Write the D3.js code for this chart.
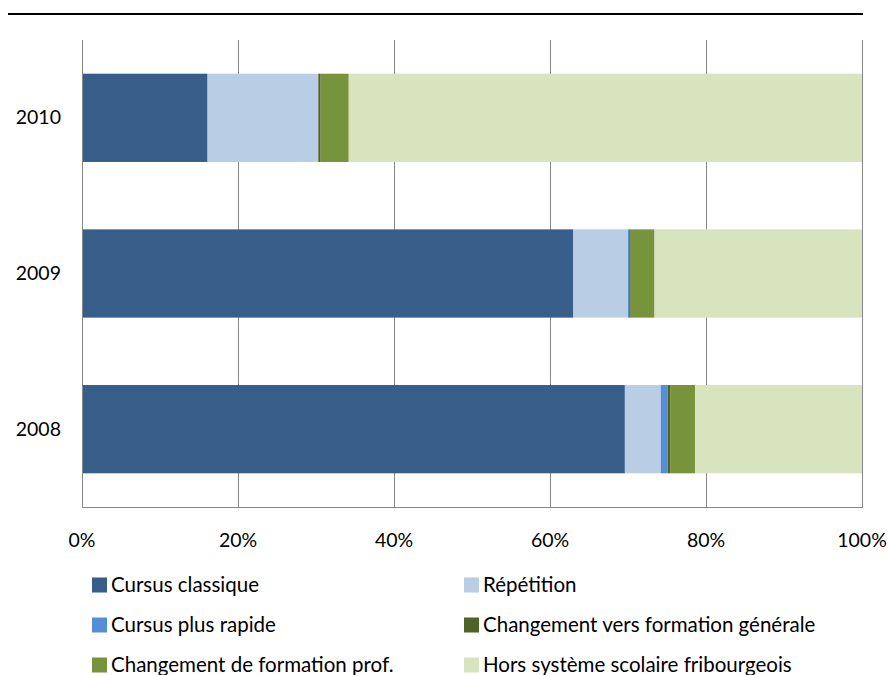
<!DOCTYPE html>
<html><head><meta charset="utf-8">
<script src="https://cdn.jsdelivr.net/npm/d3@7"></script>
<style>body{margin:0;background:#fff}svg{display:block}text{font-family:Lato,"Open Sans",sans-serif;fill:#000}</style>
</head><body><svg id="c" width="888" height="675"></svg>
<script>
const years = ["2010","2009","2008"];
const seriesNames = ["Cursus classique","Répétition","Cursus plus rapide","Changement vers formation générale","Changement de formation prof.","Hors système scolaire fribourgeois"];
const seriesColors = ["#375D89","#B9CDE5","#558ED5","#4F6228","#77933C","#D7E4BD"];
const cursusClassique = [16.1, 63.0, 69.6];
const repetition = [14.2, 7.0, 4.6];
const cursusRapide = [0.0, 0.15, 0.9];
const versGenerale = [0.3, 0.2, 0.3];
const formationProf = [3.6, 3.05, 3.2];
const horsSysteme = [65.8, 26.6, 21.4];
const tickValues = [0,20,40,60,80,100];

const allSeries = [cursusClassique, repetition, cursusRapide, versGenerale, formationProf, horsSysteme];
const rows = years.map((y,i)=>{const o={year:y}; seriesNames.forEach((s,j)=>o[s]=allSeries[j][i]); return o;});
const stack = d3.stack().keys(seriesNames)(rows);

const svg = d3.select("#c");
const L=82,R=862,T=40,B=507;
const x = d3.scaleLinear().domain([0,100]).range([L,R]);
const y = d3.scaleBand().domain(years).range([T,B]).paddingInner(0.433).paddingOuter(0.2165);

svg.append("line").attr("x1",8).attr("x2",863).attr("y1",14).attr("y2",14).attr("stroke","#000").attr("stroke-width",2);

svg.append("g").selectAll("line").data(tickValues.slice(1)).join("line")
  .attr("x1",d=>x(d)+0.5).attr("x2",d=>x(d)+0.5).attr("y1",T).attr("y2",B)
  .attr("stroke","#868686").attr("stroke-width",1);

svg.append("g").selectAll("g").data(stack).join("g").attr("fill",(d,i)=>seriesColors[i])
  .selectAll("rect").data(d=>d).join("rect")
  .attr("x",d=>x(d[0])).attr("width",d=>x(d[1])-x(d[0]))
  .attr("y",d=>y(d.data.year)).attr("height",y.bandwidth());

svg.append("line").attr("x1",L+0.5).attr("x2",L+0.5).attr("y1",T).attr("y2",B).attr("stroke","#868686");
svg.append("line").attr("x1",L).attr("x2",R+1).attr("y1",B+0.5).attr("y2",B+0.5).attr("stroke","#868686");

svg.append("g").selectAll("text").data(tickValues).join("text")
  .attr("x",d=>x(d)).attr("y",547).attr("text-anchor","middle").attr("font-size",19.5).text(d=>d+"%");

svg.append("g").selectAll("text").data(years).join("text")
  .attr("x",61).attr("y",d=>y(d)+y.bandwidth()/2+6.5).attr("text-anchor","end").attr("font-size",19.5).text(d=>d);

const lg = svg.append("g").selectAll("g").data(seriesNames).join("g")
  .attr("transform",(d,i)=>`translate(${i%2===0?92:464},${585+Math.floor(i/2)*40})`);
lg.append("rect").attr("x",0).attr("y",-7.5).attr("width",15).attr("height",15).attr("fill",(d,i)=>seriesColors[i]);
lg.append("text").attr("x",19).attr("y",7).attr("font-size",20.5).text(d=>d);
</script></body></html>
